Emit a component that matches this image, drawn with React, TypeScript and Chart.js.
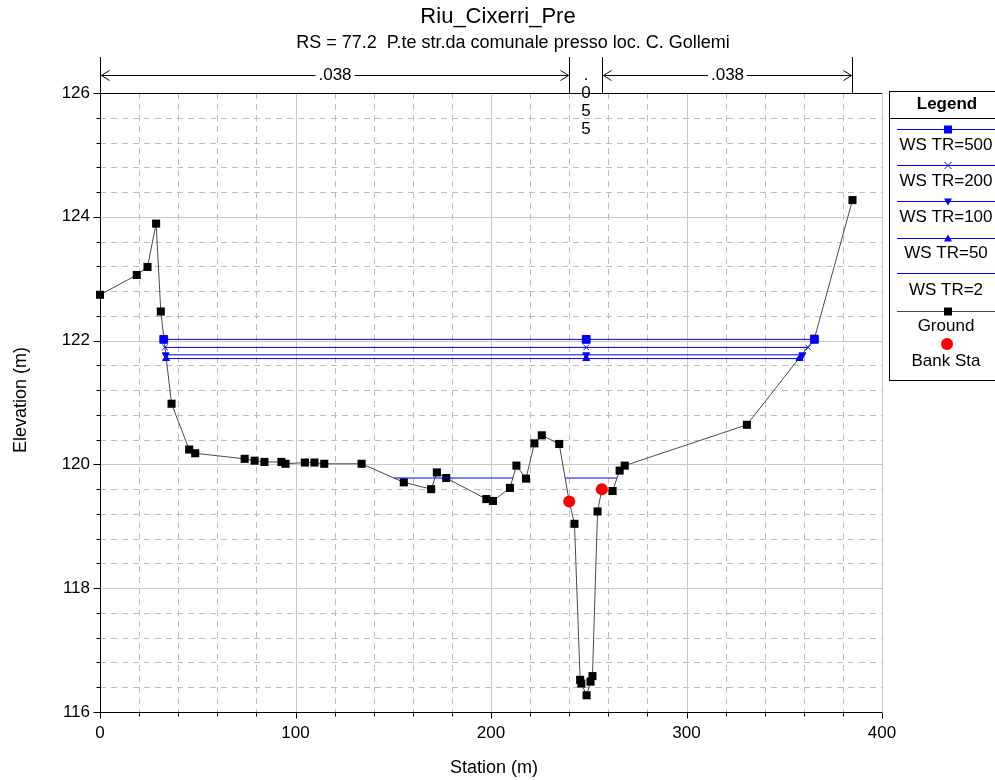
import { useEffect, useRef } from 'react';
import { Chart, registerables } from 'chart.js';

Chart.register(...registerables);

const FONT = '"Liberation Sans", Arial, Helvetica, sans-serif';

const chartTitle = 'Riu_Cixerri_Pre';
const chartSubtitle = 'RS = 77.2  P.te str.da comunale presso loc. C. Gollemi';
const xAxisTitle = 'Station (m)';
const yAxisTitle = 'Elevation (m)';

const groundStation = [
  0, 18.8, 24.3, 28.7, 31.1, 36.6, 45.6, 48.7, 74.0, 79.1, 84.1, 92.8, 94.9,
  104.8, 109.7, 114.7, 133.8, 155.4, 169.4, 172.3, 177.1, 197.6, 201.0, 209.7,
  213.0, 217.9, 222.2, 226.0, 234.9, 240.0, 242.7, 245.6, 246.2, 248.9, 250.9,
  251.9, 254.5, 256.7, 262.2, 265.8, 268.4, 330.9, 365.4, 384.9,
];
const groundElevation = [
  122.74, 123.06, 123.19, 123.89, 122.47, 120.98, 120.24, 120.18, 120.09, 120.06,
  120.04, 120.04, 120.01, 120.03, 120.03, 120.01, 120.01, 119.71, 119.60, 119.87,
  119.78, 119.44, 119.41, 119.62, 119.98, 119.77, 120.34, 120.47, 120.33, 119.40,
  119.04, 116.52, 116.46, 116.27, 116.49, 116.58, 119.24, 119.60, 119.57, 119.90,
  119.98, 120.64, 122.03, 124.27,
];

const bankStation = [240.0, 256.7];
const bankElevation = [119.40, 119.60];

const ws500Station = [32.6, 248.7, 365.4];
const ws500Elevation = [122.02, 122.02, 122.02];
const ws200Station = [33.2, 248.7, 362.2];
const ws200Elevation = [121.89, 121.89, 121.89];
const ws100Station = [33.6, 248.7, 359.3];
const ws100Elevation = [121.77, 121.77, 121.77];
const ws50Station = [33.8, 248.7, 357.8];
const ws50Elevation = [121.71, 121.71, 121.71];
const ws2Station = [150.4, 211.2, 224.0, 237.9, 264.5];
const ws2Elevation: (number | null)[] = [119.78, 119.78, null, 119.78, 119.78];

const xTickLabels = [0, 100, 200, 300, 400];
const yTickLabels = [116, 118, 120, 122, 124, 126];

const manningValues = ['.038', '.055', '.038'];
const manningBreaks = [0, 240.0, 256.7, 384.9];

const legendLabels = ['WS TR=500', 'WS TR=200', 'WS TR=100', 'WS TR=50', 'WS TR=2', 'Ground', 'Bank Sta'];

const BLUE = '#0000ff';
const GROUND_LINE = '#4a4a4a';

const toPoints = (xs: number[], ys: (number | null)[]) => xs.map((x, i) => ({ x, y: ys[i] }));

function drawMarker(ctx: CanvasRenderingContext2D, kind: string, x: number, y: number, color: string) {
  ctx.save();
  ctx.fillStyle = color;
  ctx.strokeStyle = color;
  ctx.lineWidth = 1;
  ctx.beginPath();
  if (kind === 'square') {
    ctx.rect(x - 4, y - 4, 8, 8);
    ctx.fill();
  } else if (kind === 'x') {
    ctx.moveTo(x - 3.5, y - 3.5); ctx.lineTo(x + 3.5, y + 3.5);
    ctx.moveTo(x + 3.5, y - 3.5); ctx.lineTo(x - 3.5, y + 3.5);
    ctx.stroke();
  } else if (kind === 'down') {
    ctx.moveTo(x - 4, y - 3); ctx.lineTo(x + 4, y - 3); ctx.lineTo(x, y + 4); ctx.closePath();
    ctx.fill();
  } else if (kind === 'up') {
    ctx.moveTo(x - 4, y + 3); ctx.lineTo(x + 4, y + 3); ctx.lineTo(x, y - 4); ctx.closePath();
    ctx.fill();
  } else if (kind === 'circle') {
    ctx.arc(x, y, 6, 0, Math.PI * 2);
    ctx.fill();
  }
  ctx.restore();
}

const decorPlugin = {
  id: 'decor',
  beforeDatasetsDraw(chart: any) {
    const { ctx, chartArea: a, scales } = chart;
    const xs = scales.x;
    const ys = scales.y;
    ctx.save();
    ctx.lineWidth = 1;
    const line = (x1: number, y1: number, x2: number, y2: number) => {
      ctx.beginPath(); ctx.moveTo(x1, y1); ctx.lineTo(x2, y2); ctx.stroke();
    };
    ctx.strokeStyle = '#bdbdbd';
    ctx.setLineDash([6, 5]);
    for (let s = 20; s < 400; s += 20) {
      if (s % 100 === 0) continue;
      const px = Math.round(xs.getPixelForValue(s)) + 0.5;
      line(px, a.top, px, a.bottom);
    }
    for (let i = 1; i < 25; i++) {
      if (i % 5 === 0) continue;
      const py = Math.round(ys.getPixelForValue(116 + i * 0.4)) + 0.5;
      line(a.left, py, a.right, py);
    }
    ctx.setLineDash([]);
    ctx.strokeStyle = '#c8c8c8';
    for (const s of xTickLabels) {
      if (s === 0) continue;
      const px = Math.round(xs.getPixelForValue(s)) + 0.5;
      line(px, a.top, px, a.bottom);
    }
    for (const v of yTickLabels) {
      if (v === 116 || v === 126) continue;
      const py = Math.round(ys.getPixelForValue(v)) + 0.5;
      line(a.left, py, a.right, py);
    }
    ctx.restore();
  },
  afterDraw(chart: any) {
    const { ctx, chartArea: a, scales } = chart;
    const xs = scales.x;
    const ys = scales.y;
    ctx.save();
    ctx.lineWidth = 1;
    ctx.strokeStyle = '#000';
    const line = (x1: number, y1: number, x2: number, y2: number) => {
      ctx.beginPath(); ctx.moveTo(x1, y1); ctx.lineTo(x2, y2); ctx.stroke();
    };
    const L = Math.round(a.left) + 0.5;
    const B = Math.round(a.bottom) + 0.5;
    const T = Math.round(a.top) + 0.5;
    line(L, T, L, B);
    line(L, B, a.right, B);
    line(L, T, a.right, T);
    for (let s = 0; s <= 400; s += 20) {
      const px = Math.round(xs.getPixelForValue(s)) + 0.5;
      line(px, B, px, B + (s % 100 === 0 ? 6 : 4));
    }
    for (let i = 0; i <= 25; i++) {
      const py = Math.round(ys.getPixelForValue(116 + i * 0.4)) + 0.5;
      line(L - (i % 5 === 0 ? 7 : 4), py, L, py);
    }

    ctx.fillStyle = '#000';
    ctx.textAlign = 'center';
    ctx.textBaseline = 'alphabetic';
    ctx.font = `22px ${FONT}`;
    ctx.fillText(chartTitle, 498, 23);
    ctx.font = `18px ${FONT}`;
    ctx.fillText(chartSubtitle, 513, 48);

    ctx.textBaseline = 'middle';
    ctx.font = `18px ${FONT}`;
    ctx.fillText(xAxisTitle, 494, 768);
    ctx.save();
    ctx.translate(21, 400);
    ctx.rotate(-Math.PI / 2);
    ctx.fillText(yAxisTitle, 0, 0);
    ctx.restore();

    const bx = manningBreaks.map((s) => Math.round(xs.getPixelForValue(s)) + 0.5);
    for (const px of bx) line(px, 57, px, T);
    const yA = 75.5;
    ctx.font = `17px ${FONT}`;
    const drawArrow = (x1: number, x2: number, label: string) => {
      const cx = (x1 + x2) / 2;
      const w = ctx.measureText(label).width / 2 + 3;
      line(x1 + 1, yA, cx - w, yA);
      line(cx + w, yA, x2 - 1, yA);
      line(x1 + 1, yA, x1 + 9, yA - 5); line(x1 + 1, yA, x1 + 9, yA + 5);
      line(x2 - 1, yA, x2 - 9, yA - 5); line(x2 - 1, yA, x2 - 9, yA + 5);
      ctx.fillText(label, cx, yA);
    };
    drawArrow(bx[0], bx[1], manningValues[0]);
    drawArrow(bx[2], bx[3], manningValues[2]);
    const midX = (bx[1] + bx[2]) / 2;
    const chars = manningValues[1].split('');
    chars.forEach((c, i) => ctx.fillText(c, midX, 75 + i * 18));

    const lx = 889.5;
    ctx.strokeStyle = '#000';
    ctx.strokeRect(lx, 91.5, 130, 289);
    line(lx, 118.5, 995, 118.5);
    ctx.font = `bold 17px ${FONT}`;
    ctx.fillText('Legend', 947, 104);
    ctx.font = `17px ${FONT}`;
    const entryLineY = [129, 165, 201, 238, 273, 311];
    const entryTextY = [145, 181, 217, 253, 290, 326, 361];
    const markers = ['square', 'x', 'down', 'up', '', 'square'];
    for (let i = 0; i < 6; i++) {
      const ly = entryLineY[i] + 0.5;
      ctx.strokeStyle = i === 5 ? GROUND_LINE : BLUE;
      line(897, ly, 995, ly);
      if (markers[i]) drawMarker(ctx, markers[i], 948, ly, i === 5 ? '#000' : BLUE);
    }
    drawMarker(ctx, 'circle', 947, 344, '#ff0000');
    ctx.fillStyle = '#000';
    legendLabels.forEach((t, i) => ctx.fillText(t, 946, entryTextY[i]));
    ctx.restore();
  },
};

export default function App() {
  const ref = useRef<HTMLCanvasElement | null>(null);

  useEffect(() => {
    if (!ref.current) return;
    const wsLine = (label: string, data: any[], style: any, radius: number, rotation = 0) => ({
      label,
      data,
      showLine: true,
      spanGaps: false,
      clip: false,
      borderColor: BLUE,
      borderWidth: 1,
      backgroundColor: BLUE,
      pointBorderColor: BLUE,
      pointBackgroundColor: BLUE,
      pointStyle: style,
      pointRadius: radius,
      pointRotation: rotation,
      pointBorderWidth: 1,
    });
    const chart = new Chart(ref.current, {
      type: 'scatter',
      data: {
        datasets: [
          {
            label: 'Bank Sta',
            data: toPoints(bankStation, bankElevation),
            showLine: false,
            clip: false,
            pointStyle: 'circle',
            pointRadius: 6,
            pointBackgroundColor: '#ff0000',
            pointBorderColor: '#ff0000',
            borderWidth: 0,
          },
          wsLine('WS TR=500', toPoints(ws500Station, ws500Elevation), 'rect', 5.5),
          wsLine('WS TR=200', toPoints(ws200Station, ws200Elevation), 'crossRot', 4),
          wsLine('WS TR=100', toPoints(ws100Station, ws100Elevation), 'triangle', 4, 180),
          wsLine('WS TR=50', toPoints(ws50Station, ws50Elevation), 'triangle', 4),
          wsLine('WS TR=2', toPoints(ws2Station, ws2Elevation), 'circle', 0),
          {
            label: 'Ground',
            data: toPoints(groundStation, groundElevation),
            showLine: true,
            clip: false,
            borderColor: GROUND_LINE,
            borderWidth: 1,
            pointStyle: 'rect',
            pointRadius: 5.7,
            pointBackgroundColor: '#000',
            pointBorderColor: '#000',
            pointBorderWidth: 0,
          },
        ],
      },
      options: {
        responsive: false,
        animation: false,
        events: [],
        layout: { padding: { left: 0, top: 93, right: 113, bottom: 0 } },
        plugins: {
          legend: { display: false },
          tooltip: { enabled: false },
          title: { display: false },
        },
        scales: {
          x: {
            type: 'linear',
            min: 0,
            max: 400,
            afterFit: (s: any) => { s.height = 68; },
            ticks: {
              stepSize: 100,
              maxRotation: 0,
              autoSkip: false,
              padding: 3,
              color: '#000',
              font: { family: FONT, size: 17 },
            },
            grid: { display: false, drawTicks: true, tickLength: 8 },
            border: { display: false },
          },
          y: {
            type: 'linear',
            min: 116,
            max: 126,
            afterFit: (s: any) => { s.width = 100; },
            ticks: {
              stepSize: 2,
              padding: 2,
              color: '#000',
              font: { family: FONT, size: 17 },
            },
            grid: { display: false, drawTicks: true, tickLength: 8 },
            border: { display: false },
          },
        },
      },
      plugins: [decorPlugin],
    } as any);
    return () => chart.destroy();
  }, []);

  return (
    <div style={{ position: 'absolute', left: 0, top: 0, width: 995, height: 780, background: '#fff' }}>
      <canvas ref={ref} width={995} height={780} style={{ display: 'block', width: 995, height: 780 }} />
    </div>
  );
}
